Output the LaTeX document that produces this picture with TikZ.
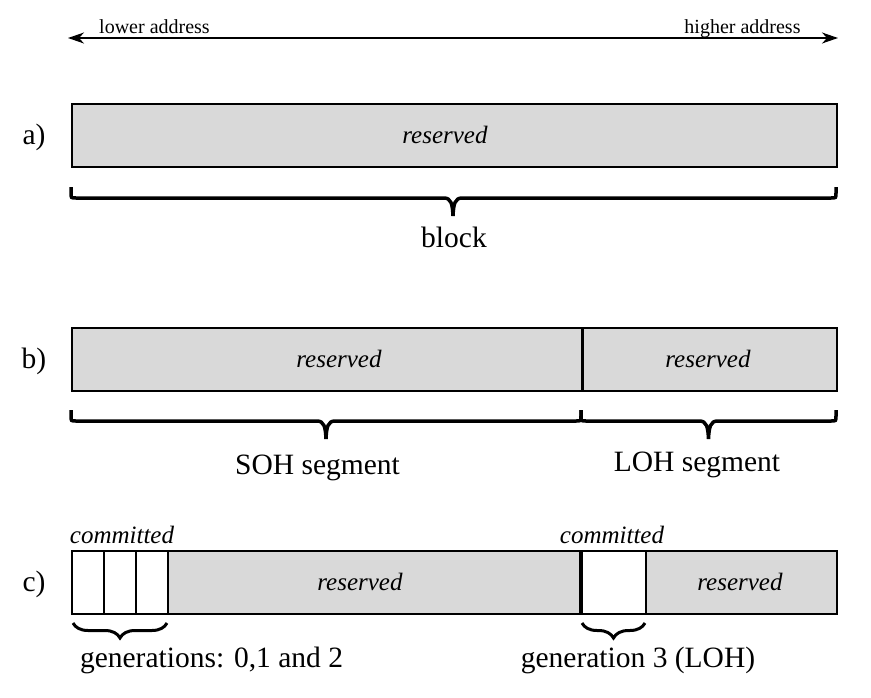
\documentclass[tikz,border=0pt]{standalone}
\usepackage{fontspec}
\setmainfont{Liberation Serif}
\usetikzlibrary{arrows.meta,decorations.pathreplacing}
\definecolor{boxgray}{HTML}{D9D9D9}
\newcommand\mybrace[4]{%
  \draw[flatbrace] ({#1},{#4}) -- ({#1},{#4+6})
    .. controls ({#1},{#4+11}) .. ({#1+5},{#4+11})
    -- ({#3-9},{#4+11})
    .. controls ({#3-2},{#4+11}) and ({#3-0.5},{#4+17}) .. ({#3},{#4+29})
    .. controls ({#3+0.5},{#4+17}) and ({#3+2},{#4+11}) .. ({#3+9},{#4+11})
    -- ({#2-5},{#4+11})
    .. controls ({#2},{#4+11}) .. ({#2},{#4+6}) -- ({#2},{#4});}
\begin{document}
\begin{tikzpicture}[x=1pt,y=-1pt,
  box/.style={draw=black, line width=1.5pt, fill=boxgray, inner sep=0pt, anchor=north west, minimum height=63pt},
  wcell/.style={box, fill=white},
  big/.style={font=\fontsize{29.5}{35}\selectfont, inner sep=0pt, anchor=base},
  ital/.style={font=\fontsize{25}{30}\selectfont\itshape, inner sep=0pt, anchor=base},
  addr/.style={font=\fontsize{20}{24}\selectfont, inner sep=0pt, anchor=base},
  flatbrace/.style={line width=3.5pt},
  curly/.style={decorate, decoration={brace, mirror, amplitude=15pt}, line width=3pt},
  divider/.style={line width=3.5pt},
  axis/.style={line width=1.5pt, {Stealth[length=16pt,width=11pt,inset=5pt]}-{Stealth[length=16pt,width=11pt,inset=5pt]}}]
\useasboundingbox (0,0) rectangle (871,697);

% address axis
\coordinate (lowend) at (68,38);
\coordinate (highend) at (838,38);
\draw[axis] (lowend) -- (highend);
\node[addr] (lowlbl) at (154.5,33) {lower address};
\node[addr] (highlbl) at (742.5,33) {higher address};

% a)
\node[big] (la) at (34,144) {a)};
\node[box, minimum width=765pt] (boxa) at (71,103) {};
\node[ital] (resa) at (445,143) {reserved};
\mybrace{71}{836}{453}{187}
\node[big] (block) at (454,247) {block};

% b)
\node[big] (lb) at (34,368) {b)};
\node[box, minimum width=510pt] (boxbl) at (71,327) {};
\node[box, minimum width=255pt] (boxbr) at (581,327) {};
\draw[divider] (boxbl.north east) -- (boxbl.south east);
\node[ital] (resbl) at (339,367) {reserved};
\node[ital] (resbr) at (708,367) {reserved};
\mybrace{71}{581}{326}{410}
\mybrace{581}{836}{708.5}{410}
\node[big] (soh) at (317.5,474) {SOH segment};
\node[big] (loh) at (697,471) {LOH segment};

% c)
\node[big] (lc) at (34,591) {c)};
\node[wcell, minimum width=32pt] (g0) at (71,550) {};
\node[wcell, minimum width=32pt] (g1) at (103,550) {};
\node[wcell, minimum width=32pt] (g2) at (135,550) {};
\node[box, minimum width=414pt] (grayc) at (167,550) {};
\node[wcell, minimum width=64pt] (g3) at (581,550) {};
\node[box, minimum width=191pt] (grayd) at (645,550) {};
\draw[divider] (g3.north west) -- (g3.south west);
\node[ital] (coml) at (122,543) {committed};
\node[ital] (comr) at (612,543) {committed};
\node[ital] (rescl) at (360,590) {reserved};
\node[ital] (rescr) at (740,590) {reserved};
\draw[curly] (73,623) -- (167,623);
\draw[curly] (582,623) -- (645,623);
\node[big] (gens) at (211.5,667) {generations: 0,1 and 2};
\node[big] (gen3) at (638,667) {generation 3 (LOH)};
\end{tikzpicture}
\end{document}
